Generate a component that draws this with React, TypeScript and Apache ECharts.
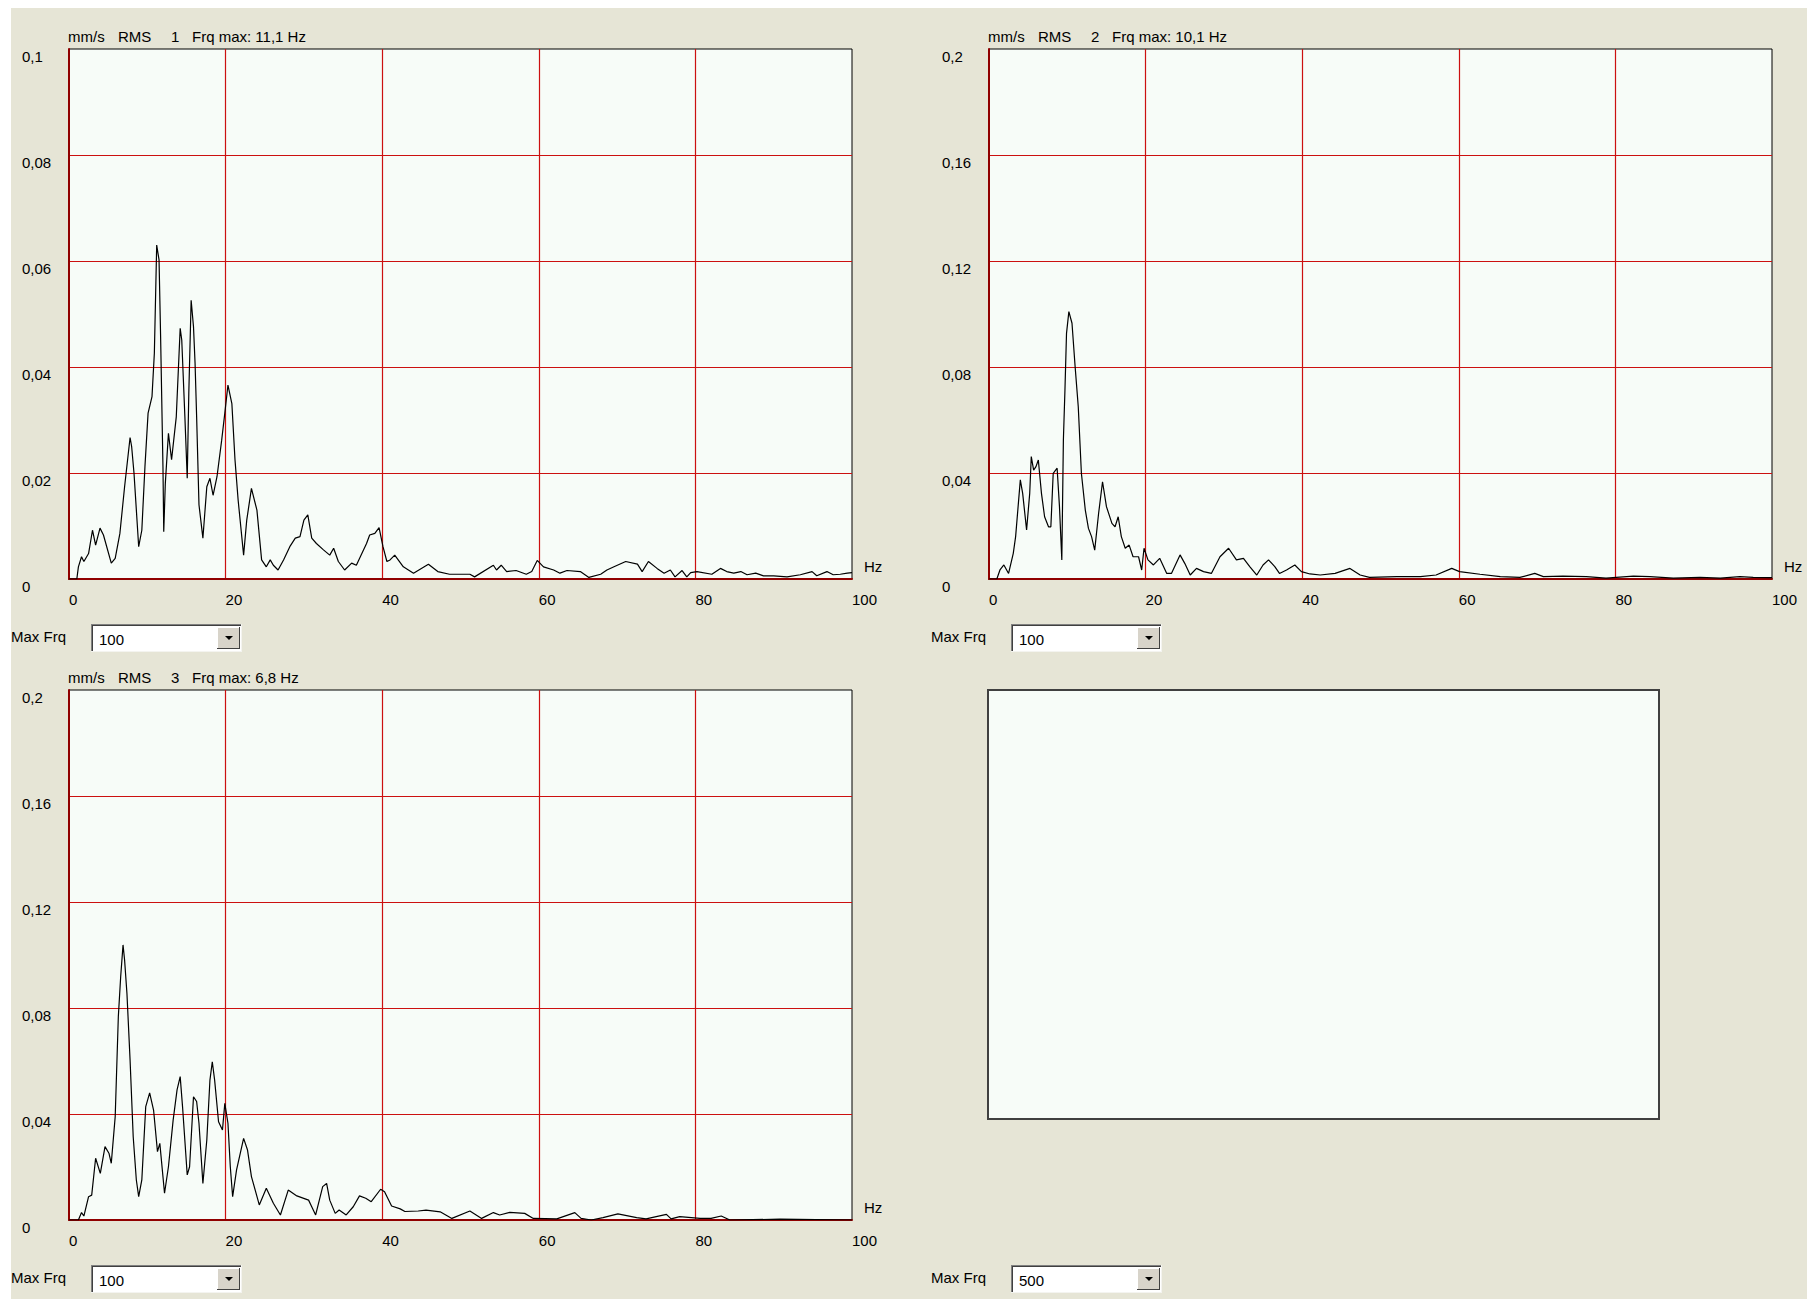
import React, { useEffect, useRef } from "react";
import * as echarts from "echarts";

// ---- data (Hz, mm/s RMS) ----
const spectrum1: [number, number][] = [
  [0,0],[1,0],[1.2,0.0023],[1.6,0.0042],[1.9,0.0033],[2.5,0.0048],[3.0,0.0092],[3.4,0.0064],[3.96,0.0096],[4.4,0.0083],[5.4,0.003],[5.9,0.0039],[6.5,0.0086],[7.1,0.0174],[7.8,0.0267],[8.0,0.025],[8.3,0.02],[8.9,0.0061],[9.3,0.0092],[9.7,0.0212],[10.1,0.0313],[10.6,0.0344],[10.9,0.0426],[11.2,0.063],[11.5,0.0602],[11.7,0.0457],[12.0,0.0212],[12.1,0.0089],[12.3,0.018],[12.7,0.0275],[13.1,0.0225],[13.7,0.0306],[14.2,0.0473],[14.4,0.0451],[14.8,0.0306],[15.1,0.019],[15.3,0.035],[15.6,0.0526],[15.9,0.0476],[16.1,0.0407],[16.3,0.0306],[16.6,0.014],[17.1,0.0077],[17.6,0.0174],[18.0,0.019],[18.4,0.0158],[18.9,0.0193],[19.5,0.0262],[19.9,0.0313],[20.3,0.0366],[20.8,0.0331],[21.2,0.0225],[21.6,0.0149],[22.3,0.0045],[22.7,0.0111],[23.3,0.0171],[24.0,0.013],[24.6,0.0036],[25.2,0.0023],[25.7,0.0036],[26.1,0.0026],[26.7,0.0017],[27.4,0.0036],[28.2,0.0061],[28.9,0.0077],[29.5,0.008],[30.0,0.0111],[30.5,0.0121],[31.0,0.0077],[31.6,0.0067],[32.5,0.0055],[33.3,0.0045],[33.8,0.0058],[34.4,0.0033],[35.2,0.0017],[36.1,0.003],[36.7,0.0026],[37.4,0.0048],[38.0,0.0067],[38.4,0.0083],[39.06,0.0086],[39.6,0.0097],[40.1,0.0061],[40.6,0.0033],[41.0,0.0036],[41.6,0.0045],[42.7,0.0023],[44.0,0.0011],[45.9,0.0028],[47.1,0.0014],[48.6,0.0009],[51.2,0.0009],[51.8,0.0004],[54.2,0.0026],[54.6,0.0017],[55.2,0.0026],[55.9,0.0014],[57.1,0.0016],[58.4,0.0009],[59.1,0.0014],[59.8,0.0035],[60.6,0.0023],[61.9,0.0017],[62.7,0.0011],[63.6,0.0016],[65.3,0.0014],[66.4,0.0003],[67.9,0.0009],[68.7,0.0017],[69.6,0.0023],[71.1,0.0033],[72.6,0.0028],[73.2,0.0014],[74.0,0.0033],[75.1,0.002],[76.0,0.0011],[76.8,0.0017],[77.4,0.0004],[78.3,0.0016],[78.9,0.0004],[79.4,0.0012],[80.2,0.0014],[82.1,0.0009],[83.2,0.002],[84.0,0.0014],[84.9,0.0011],[85.8,0.0014],[86.6,0.0008],[87.7,0.0011],[88.7,0.0006],[90.0,0.0006],[91.7,0.0004],[93.4,0.0008],[94.9,0.0014],[95.5,0.0006],[96.8,0.0014],[97.6,0.0008],[98.5,0.0009],[99.4,0.0011],[100,0.0012]
];

const spectrum2: [number, number][] = [
  [0,0],[1,0],[1.4,0.0034],[1.9,0.0053],[2.5,0.0021],[3.1,0.0097],[3.4,0.016],[4.0,0.0374],[4.3,0.0323],[4.8,0.0185],[5.2,0.0323],[5.4,0.0462],[5.7,0.0411],[6.0,0.0424],[6.3,0.0449],[6.7,0.0323],[7.1,0.0235],[7.6,0.0197],[7.9,0.0197],[8.2,0.0399],[8.7,0.0418],[9.0,0.0273],[9.3,0.0072],[9.5,0.0525],[9.7,0.0713],[9.9,0.0927],[10.2,0.1009],[10.6,0.0965],[11.0,0.0801],[11.4,0.065],[11.8,0.0399],[12.3,0.026],[12.7,0.0191],[13.1,0.016],[13.5,0.0109],[14.0,0.0248],[14.5,0.0367],[15.0,0.0273],[15.7,0.021],[16.1,0.0197],[16.5,0.0235],[16.9,0.016],[17.4,0.0116],[17.9,0.0128],[18.4,0.0084],[19.1,0.0084],[19.5,0.0034],[19.8,0.0116],[20.3,0.0072],[21.0,0.0053],[21.8,0.0078],[22.7,0.0021],[23.3,0.0021],[24.4,0.0091],[25.0,0.0059],[25.7,0.0015],[26.5,0.004],[27.4,0.0028],[28.4,0.0021],[29.5,0.0084],[30.6,0.0116],[31.6,0.0072],[32.5,0.0078],[33.3,0.0047],[34.2,0.0015],[35.0,0.0053],[35.7,0.0072],[36.5,0.0047],[37.1,0.0021],[38.0,0.0034],[39.06,0.0053],[39.9,0.0028],[41.0,0.0019],[42.3,0.0015],[44.2,0.0021],[46.1,0.004],[47.4,0.0015],[48.6,0.0006],[52.1,0.0009],[55.1,0.0009],[57.1,0.0015],[59.1,0.004],[60.1,0.0028],[62.7,0.0018],[65.3,0.0009],[67.8,0.0006],[69.7,0.0021],[70.8,0.0009],[73.3,0.0011],[76.3,0.0009],[78.8,0.0003],[82.3,0.0011],[84.4,0.0009],[87.4,0.0003],[90.8,0.0006],[93.4,0.0003],[95.9,0.0009],[97.6,0.0006],[99.5,0.0005],[100,0.0005]
];

const spectrum3: [number, number][] = [
  [0,0],[1.2,0],[1.6,0.0028],[1.9,0.0015],[2.5,0.0088],[2.9,0.0094],[3.4,0.0233],[4.0,0.0176],[4.6,0.0277],[5.1,0.0252],[5.4,0.0214],[5.9,0.039],[6.3,0.0767],[6.6,0.0918],[6.9,0.1038],[7.1,0.0981],[7.4,0.0855],[7.8,0.0604],[8.2,0.0314],[8.6,0.0151],[8.9,0.0088],[9.3,0.0151],[9.8,0.0428],[10.3,0.048],[10.8,0.0415],[11.3,0.0258],[11.6,0.0289],[12.2,0.0101],[12.7,0.0201],[13.3,0.0377],[13.8,0.0491],[14.2,0.0541],[14.5,0.0428],[15.1,0.017],[15.4,0.0201],[15.9,0.0465],[16.3,0.0447],[16.6,0.0365],[17.1,0.0138],[17.6,0.0302],[18.0,0.0528],[18.3,0.0597],[18.6,0.0528],[19.1,0.0371],[19.6,0.034],[19.9,0.044],[20.3,0.0365],[20.6,0.0201],[20.9,0.0088],[21.4,0.0189],[22.3,0.0308],[22.8,0.0264],[23.3,0.0164],[24.3,0.0057],[25.2,0.012],[26.1,0.0063],[27.0,0.0019],[28.0,0.0113],[29.1,0.0091],[30.6,0.0075],[31.0,0.005],[31.5,0.0019],[32.4,0.0126],[32.9,0.0138],[33.3,0.0075],[34.0,0.0025],[34.5,0.0038],[35.4,0.0019],[36.3,0.005],[37.1,0.0091],[37.9,0.0082],[38.6,0.0069],[39.8,0.0116],[40.3,0.0107],[41.2,0.0053],[42.3,0.0042],[42.9,0.0032],[44.6,0.0034],[45.6,0.0037],[47.4,0.0031],[48.9,0.0006],[51.2,0.0034],[52.7,0.0006],[54.2,0.0028],[55.0,0.0019],[56.3,0.0029],[58.2,0.0025],[59.3,0.0006],[62.3,0.0004],[64.6,0.0028],[65.4,0.0006],[66.7,0],[68.2,0.0009],[70.1,0.0023],[72.5,0.0009],[73.7,0.0004],[76.3,0.0021],[76.9,0.0004],[78.0,0.0013],[80.6,0.0006],[82.0,0.0006],[83.3,0.0015],[84.4,0],[90.8,0.0003],[100,0]
];

const channelNumbers = ["1", "2", "3"];
const freqMaxLabels = ["Frq max: 11,1 Hz", "Frq max: 10,1 Hz", "Frq max: 6,8 Hz"];
const yMaxValues = [0.1, 0.2, 0.2];
const yIntervals = [0.02, 0.04, 0.04];
const xMax = 100;
const xInterval = 20;
const maxFrqValues = ["100", "100", "100", "500"];

const FONT = "Liberation Sans, Arial, sans-serif";
const FS = 15;
const BG = "#E6E5D6";
const PLOT_BG = "#F7FCF8";
const GRID_RED = "#CC1010";
const AXIS_RED = "#900000";

// layout (chart coordinates)
const gridPos = [
  { left: 58, top: 41 },
  { left: 978, top: 41 },
  { left: 58, top: 682 },
];
const GW = 783;
const GH = 530;
const panelOffsets = [
  { dx: 0, dy: 0 },
  { dx: 920, dy: 0 },
  { dx: 0, dy: 641 },
  { dx: 920, dy: 641 },
];

function fmtY(v: number) {
  if (v === 0) return "0";
  return String(+v.toFixed(2)).replace(".", ",");
}

function txt(x: number, y: number, t: string) {
  return {
    type: "text",
    x,
    y,
    style: { text: t, font: `${FS}px ${FONT}`, fill: "#000", textVerticalAlign: "middle" },
  };
}

function dropdown(dx: number, dy: number, value: string) {
  const x0 = 80 + dx;
  const y0 = 616 + dy;
  const w = 151;
  const h = 28;
  return [
    txt(0 + dx, 628 + dy, "Max Frq"),
    { type: "rect", shape: { x: x0, y: y0, width: w, height: h }, style: { fill: "#FFFFFF", stroke: null } },
    { type: "line", shape: { x1: x0, y1: y0 + 0.5, x2: x0 + w, y2: y0 + 0.5 }, style: { stroke: "#808080", lineWidth: 1 } },
    { type: "line", shape: { x1: x0 + 0.5, y1: y0, x2: x0 + 0.5, y2: y0 + h }, style: { stroke: "#808080", lineWidth: 1 } },
    { type: "line", shape: { x1: x0 + 1, y1: y0 + 1.5, x2: x0 + w - 1, y2: y0 + 1.5 }, style: { stroke: "#404040", lineWidth: 1 } },
    { type: "line", shape: { x1: x0 + 1.5, y1: y0 + 1, x2: x0 + 1.5, y2: y0 + h - 1 }, style: { stroke: "#404040", lineWidth: 1 } },
    { type: "line", shape: { x1: x0, y1: y0 + h - 0.5, x2: x0 + w, y2: y0 + h - 0.5 }, style: { stroke: "#F4F4F0", lineWidth: 1 } },
    { type: "line", shape: { x1: x0 + w - 0.5, y1: y0, x2: x0 + w - 0.5, y2: y0 + h }, style: { stroke: "#F4F4F0", lineWidth: 1 } },
    { type: "rect", shape: { x: x0 + 126, y: y0 + 3, width: 23, height: 22 }, style: { fill: "#D8D4CA", stroke: null } },
    { type: "line", shape: { x1: x0 + 126, y1: y0 + 3.5, x2: x0 + 149, y2: y0 + 3.5 }, style: { stroke: "#FFFFFF", lineWidth: 1 } },
    { type: "line", shape: { x1: x0 + 126.5, y1: y0 + 3, x2: x0 + 126.5, y2: y0 + 25 }, style: { stroke: "#FFFFFF", lineWidth: 1 } },
    { type: "line", shape: { x1: x0 + 126, y1: y0 + 24.5, x2: x0 + 149, y2: y0 + 24.5 }, style: { stroke: "#404040", lineWidth: 1 } },
    { type: "line", shape: { x1: x0 + 148.5, y1: y0 + 3, x2: x0 + 148.5, y2: y0 + 25 }, style: { stroke: "#404040", lineWidth: 1 } },
    { type: "polygon", shape: { points: [[x0 + 134, y0 + 12], [x0 + 142, y0 + 12], [x0 + 138, y0 + 16]] }, style: { fill: "#000" } },
    txt(x0 + 8, y0 + 15, value),
  ];
}

function titleTexts(i: number) {
  const { dx, dy } = panelOffsets[i];
  const y = 28 + dy;
  return [
    txt(57 + dx, y, "mm/s"),
    txt(107 + dx, y, "RMS"),
    txt(160 + dx, y, channelNumbers[i]),
    txt(181 + dx, y, freqMaxLabels[i]),
    txt(853 + dx, 558 + dy, "Hz"),
  ];
}

export default function App() {
  const ref = useRef<HTMLDivElement>(null);

  useEffect(() => {
    if (!ref.current) return;
    const chart = echarts.init(ref.current, undefined, { renderer: "svg" });
    const spectra = [spectrum1, spectrum2, spectrum3];

    const grids = gridPos.map((g) => ({
      left: g.left,
      top: g.top,
      width: GW,
      height: GH,
      show: true,
      backgroundColor: PLOT_BG,
      borderColor: "#000000",
      borderWidth: 1,
      containLabel: false,
    }));

    const xAxes = gridPos.map((_, i) => ({
      type: "value",
      gridIndex: i,
      min: 0,
      max: xMax,
      interval: xInterval,
      axisLine: { show: true, onZero: false, lineStyle: { color: AXIS_RED, width: 2 } },
      axisTick: { show: false },
      axisLabel: {
        show: true,
        align: "left",
        margin: 13,
        color: "#000",
        fontSize: FS,
        fontFamily: FONT,
      },
      splitLine: { show: true, showMinLine: false, showMaxLine: false, lineStyle: { color: GRID_RED, width: 1.2 } },
    }));

    const yAxes = gridPos.map((_, i) => ({
      type: "value",
      gridIndex: i,
      min: 0,
      max: yMaxValues[i],
      interval: yIntervals[i],
      axisLine: { show: true, onZero: false, lineStyle: { color: AXIS_RED, width: 2 } },
      axisTick: { show: false },
      axisLabel: {
        show: true,
        align: "left",
        verticalAlign: "top",
        margin: 47,
        color: "#000",
        fontSize: FS,
        fontFamily: FONT,
        formatter: (v: number) => fmtY(v),
      },
      splitLine: { show: true, showMinLine: false, showMaxLine: false, lineStyle: { color: GRID_RED, width: 1.2 } },
    }));

    const series = spectra.map((d, i) => ({
      type: "line",
      xAxisIndex: i,
      yAxisIndex: i,
      data: d,
      showSymbol: false,
      symbol: "none",
      clip: true,
      z: 5,
      lineStyle: { color: "#000000", width: 1.2 },
      silent: true,
    }));

    const graphics: any[] = [];
    [0, 1, 2].forEach((i) => graphics.push(...titleTexts(i)));
    panelOffsets.forEach((o, i) => graphics.push(...dropdown(o.dx, o.dy, maxFrqValues[i])));
    // empty fourth panel
    graphics.push({
      type: "rect",
      shape: { x: 977, y: 682, width: 671, height: 429 },
      style: { fill: PLOT_BG, stroke: "#404040", lineWidth: 2 },
    });

    chart.setOption({
      animation: false,
      backgroundColor: BG,
      textStyle: { fontFamily: FONT },
      grid: grids,
      xAxis: xAxes,
      yAxis: yAxes,
      series,
      graphic: graphics,
    });

    return () => chart.dispose();
  }, []);

  return (
    <div style={{ position: "absolute", left: 0, top: 0, width: 1807, height: 1299, background: "#FFFFFF", overflow: "hidden" }}>
      <div ref={ref} style={{ position: "absolute", left: 11, top: 8, width: 1796, height: 1291 }} />
    </div>
  );
}
